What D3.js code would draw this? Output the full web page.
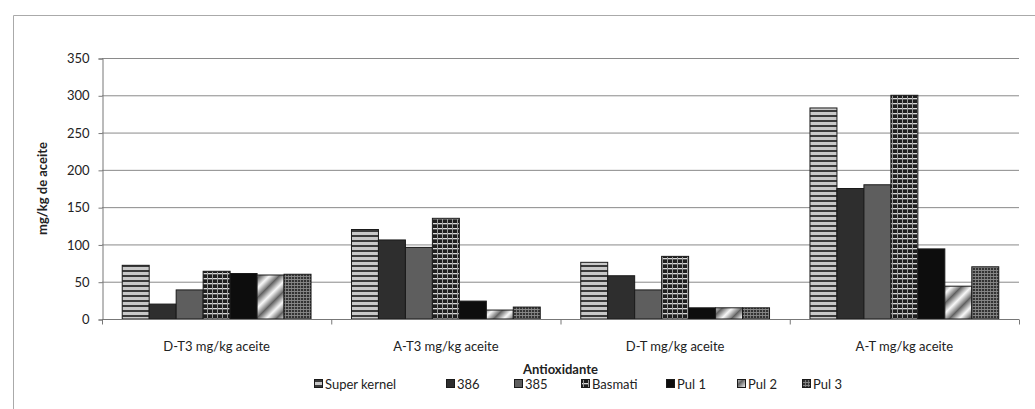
<!DOCTYPE html>
<html>
<head>
<meta charset="utf-8">
<script src="https://cdn.jsdelivr.net/npm/d3@7"></script>
<style>
  body { margin: 0; background: #fff; }
  text { font-family: Lato, "Open Sans", sans-serif; fill: #222; }
</style>
</head>
<body>
<svg width="1035" height="409"></svg>
<script>
// data
const categories = ["D-T3 mg/kg aceite", "A-T3 mg/kg aceite", "D-T mg/kg aceite", "A-T mg/kg aceite"];
const series = ["Super kernel", "386", "385", "Basmati", "Pul 1", "Pul 2", "Pul 3"];
const superKernel = [72, 120, 76, 283];
const v386 = [20, 106, 58, 175];
const v385 = [39, 96, 39, 180];
const basmati = [64, 135, 84, 300];
const pul1 = [61, 24, 15, 94];
const pul2 = [59, 12, 15, 44];
const pul3 = [60, 16, 15, 70];
const yTicks = [0, 50, 100, 150, 200, 250, 300, 350];

const values = [superKernel, v386, v385, basmati, pul1, pul2, pul3];
const fills = ["url(#pSK)", "#2e2e2e", "#5e5e5e", "url(#pBas)", "#0d0d0d", "url(#pPul2)", "url(#pPul3)"];

const svg = d3.select("svg");
const margin = { top: 58, right: 16, bottom: 90, left: 102 };
const width = 1035, height = 409;

// patterns
const defs = svg.append("defs");
let p = defs.append("pattern").attr("id", "pSK").attr("patternUnits", "userSpaceOnUse")
  .attr("width", 6).attr("height", 5);
p.append("rect").attr("width", 6).attr("height", 5).attr("fill", "#c8c8c8");
p.append("rect").attr("width", 6).attr("height", 2).attr("fill", "#3a3a3a");

p = defs.append("pattern").attr("id", "pBas").attr("patternUnits", "userSpaceOnUse")
  .attr("width", 5).attr("height", 5);
p.append("rect").attr("width", 5).attr("height", 5).attr("fill", "#1e1e1e");
p.append("rect").attr("y", 3).attr("width", 5).attr("height", 1.3).attr("fill", "#d8d8d8");
p.append("rect").attr("x", 2).attr("width", 1).attr("height", 5).attr("fill", "#9a9a9a");

const grad = defs.append("linearGradient").attr("id", "gPul2")
  .attr("x1", 0).attr("x2", 1).attr("y1", 0).attr("y2", 0);
grad.append("stop").attr("offset", "0%").attr("stop-color", "#555");
grad.append("stop").attr("offset", "55%").attr("stop-color", "#fafafa");
grad.append("stop").attr("offset", "100%").attr("stop-color", "#777");
p = defs.append("pattern").attr("id", "pPul2").attr("patternUnits", "userSpaceOnUse")
  .attr("width", 14).attr("height", 14).attr("patternTransform", "rotate(45)");
p.append("rect").attr("width", 14).attr("height", 14).attr("fill", "url(#gPul2)");

p = defs.append("pattern").attr("id", "pPul3").attr("patternUnits", "userSpaceOnUse")
  .attr("width", 3).attr("height", 3);
p.append("rect").attr("width", 3).attr("height", 3).attr("fill", "#333");
p.append("rect").attr("width", 3).attr("height", 0.8).attr("fill", "#999");
p.append("rect").attr("width", 0.8).attr("height", 3).attr("fill", "#888");

// outer frame
svg.append("path")
  .attr("d", `M13.5,${height} V15.5 H${width}`)
  .attr("fill", "none").attr("stroke", "#aaa");

const x = d3.scaleBand()
  .domain(categories)
  .range([margin.left, width - margin.right]);
const xs = d3.scaleBand()
  .domain(series)
  .range([0, x.bandwidth()])
  .paddingOuter(0.75);
const y = d3.scaleLinear()
  .domain([0, 350])
  .range([height - margin.bottom, margin.top]);

// gridlines
svg.append("g")
  .selectAll("line")
  .data(yTicks.slice(1))
  .join("line")
  .attr("x1", margin.left).attr("x2", width - margin.right)
  .attr("y1", d => y(d) + 0.5).attr("y2", d => y(d) + 0.5)
  .attr("stroke", "#8a8a8a");

// bars
svg.append("g")
  .selectAll("g")
  .data(series)
  .join("g")
  .attr("fill", (d, i) => fills[i])
  .selectAll("rect")
  .data((s, i) => categories.map((c, j) => ({ c, s, v: values[i][j] })))
  .join("rect")
  .attr("x", d => x(d.c) + xs(d.s))
  .attr("width", xs.bandwidth())
  .attr("y", d => y(d.v))
  .attr("height", d => y(0) - y(d.v))
  .attr("stroke", "#1a1a1a")
  .attr("stroke-width", 1);

// y axis
svg.append("g")
  .attr("transform", `translate(${margin.left + 0.5},0.5)`)
  .call(d3.axisLeft(y).tickValues(yTicks).tickSize(4).tickPadding(9))
  .call(g => g.select(".domain").attr("stroke", "#777"))
  .call(g => g.selectAll(".tick line").attr("stroke", "#777"))
  .call(g => g.selectAll("text").attr("font-size", 13).attr("fill", "#222"));

// x axis
const xAxis = svg.append("g")
  .attr("transform", `translate(0,${y(0) + 0.5})`);
xAxis.append("line")
  .attr("x1", margin.left).attr("x2", width - margin.right)
  .attr("stroke", "#777");
xAxis.selectAll("line.tk")
  .data(categories.concat([null]))
  .join("line").attr("class", "tk")
  .attr("x1", d => (d ? x(d) : x.range()[1]) + 0.5)
  .attr("x2", d => (d ? x(d) : x.range()[1]) + 0.5)
  .attr("y2", 5).attr("stroke", "#777");
xAxis.selectAll("text")
  .data(categories)
  .join("text")
  .attr("x", d => x(d) + x.bandwidth() / 2)
  .attr("y", 31)
  .attr("text-anchor", "middle")
  .attr("font-size", 13)
  .text(d => d);

// axis titles
svg.append("text")
  .attr("x", x.range()[0] + (x.range()[1] - x.range()[0]) / 2)
  .attr("y", 374)
  .attr("text-anchor", "middle")
  .attr("font-size", 13).attr("font-weight", "bold")
  .text("Antioxidante");
svg.append("text")
  .attr("transform", `translate(47,${(y(0) + y(350)) / 2}) rotate(-90)`)
  .attr("text-anchor", "middle")
  .attr("font-size", 13).attr("font-weight", "bold")
  .text("mg/kg de aceite");

// legend
const legendX = [314, 446, 514, 581, 666, 737, 802];
const legend = svg.append("g").attr("transform", "translate(0,385)");
const li = legend.selectAll("g")
  .data(series)
  .join("g")
  .attr("transform", (d, i) => `translate(${legendX[i]},0)`);
li.append("rect")
  .attr("x", 0.5).attr("y", -5.5)
  .attr("width", 8).attr("height", 8)
  .attr("fill", (d, i) => fills[i])
  .attr("stroke", "#1a1a1a");
li.append("text")
  .attr("x", 11).attr("y", 4)
  .attr("font-size", 13)
  .text(d => d);
</script>
</body>
</html>
